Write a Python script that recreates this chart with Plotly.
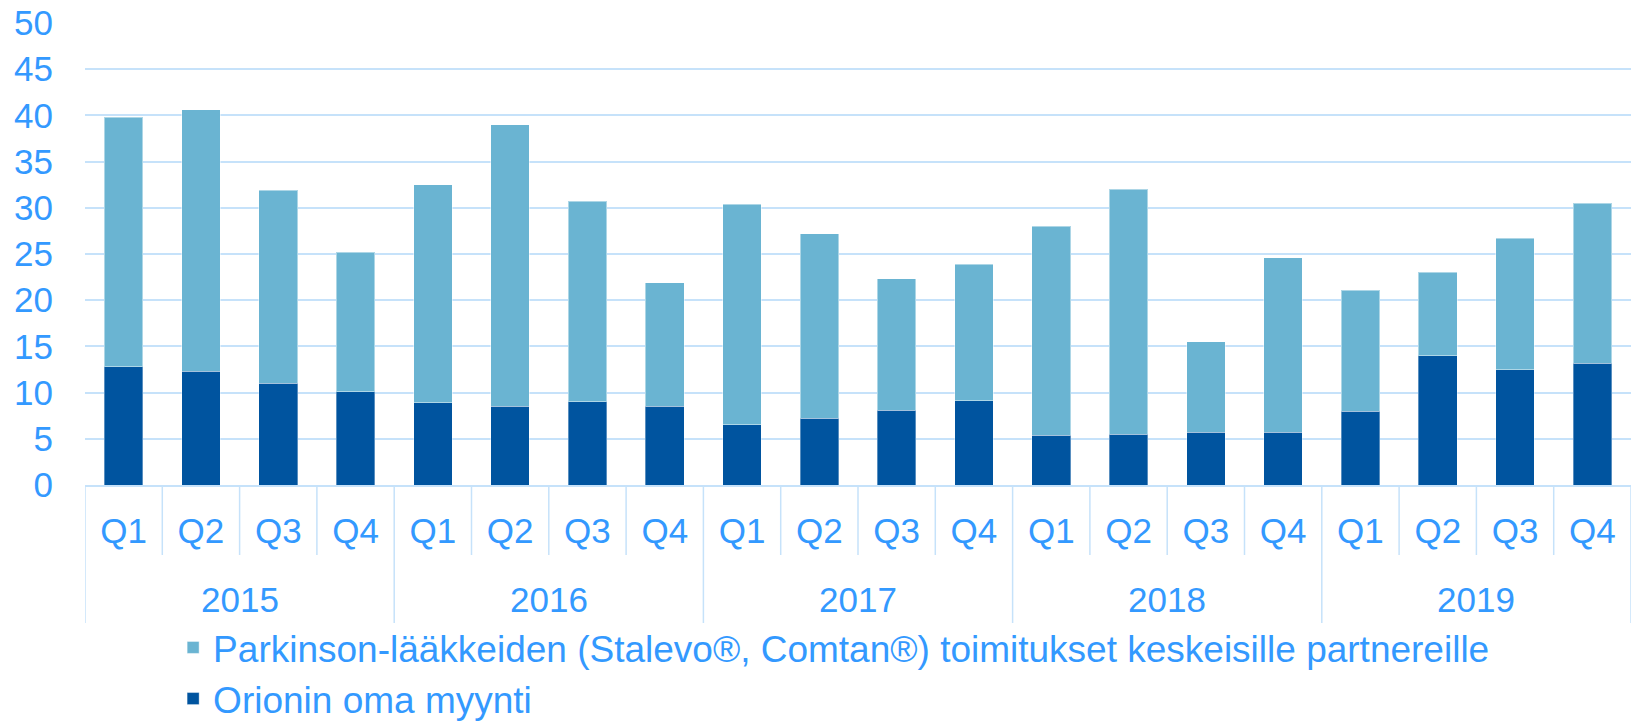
import plotly.graph_objects as go

years = ["2015", "2016", "2017", "2018", "2019"]
quarters = ["Q1", "Q2", "Q3", "Q4"]
# totals (top of stacked bar) and own-sales part
totals = [39.8, 40.6, 31.9, 25.2,
          32.5, 39.0, 30.7, 21.9,
          30.4, 27.2, 22.3, 23.9,
          28.0, 32.0, 15.5, 24.6,
          21.1, 23.0, 26.7, 30.5]
own_sales = [12.8, 12.3, 11.0, 10.1,
             8.9, 8.5, 9.0, 8.5,
             6.5, 7.2, 8.1, 9.1,
             5.4, 5.5, 5.7, 5.7,
             8.0, 14.0, 12.5, 13.2]
partner = [round(t - o, 2) for t, o in zip(totals, own_sales)]

name_partner = "Parkinson-lääkkeiden (Stalevo®, Comtan®) toimitukset keskeisille partnereille"
name_own = "Orionin oma myynti"

FONT = "Liberation Sans"
TXT = "#3399FF"
GRID = "#C6E2FA"
LIGHT = "#6AB4D2"
DARK = "#00549F"

labels = [q for y in years for q in quarters]
xs = list(range(len(labels)))

fig = go.Figure()
fig.add_bar(x=xs, y=own_sales, name=name_own,
            marker=dict(color=DARK, line=dict(width=1, color="rgba(255,255,255,0.35)")))
fig.add_bar(x=xs, y=partner, name=name_partner,
            marker=dict(color=LIGHT, line=dict(width=1, color="rgba(255,255,255,0.45)")))

shapes = []
n = len(labels)
nq = len(quarters)
for b in range(n + 1):
    is_year = (b % nq == 0)
    shapes.append(dict(type="line", xref="x", yref="paper", x0=b - 0.5, x1=b - 0.5,
                       y0=0, y1=-0.2987 if is_year else -0.1515,
                       line=dict(color=GRID, width=1.5), layer="below"))

annotations = []
for k, yr in enumerate(years):
    annotations.append(dict(x=k * nq + (nq - 1) / 2, y=-0.2475, xref="x", yref="paper",
                            text=yr, showarrow=False, yanchor="middle", xanchor="center",
                            font=dict(family=FONT, size=35, color=TXT)))

fig.update_layout(
    width=1633, height=721,
    margin=dict(l=85, r=2, t=23, b=236, autoexpand=False),
    plot_bgcolor="white", paper_bgcolor="white",
    barmode="stack", bargap=0.5,
    showlegend=True,
    legend=dict(orientation="v", x=0.057, xanchor="left", y=-0.2855, yanchor="top",
                traceorder="reversed", font=dict(family=FONT, size=37, color=TXT),
                bgcolor="rgba(0,0,0,0)"),
    shapes=shapes, annotations=annotations,
    font=dict(family=FONT, size=35, color=TXT),
)
fig.update_xaxes(range=[-0.5, n - 0.5], tickmode="array", tickvals=xs, ticktext=labels,
                 ticks="", showgrid=False, zeroline=False, showline=True, linecolor=GRID, linewidth=1.5,
                 tickfont=dict(family=FONT, size=35, color=TXT), ticklabelstandoff=14,
                 automargin=False)
fig.update_yaxes(range=[0, 50], dtick=5, showgrid=True, gridcolor=GRID, gridwidth=1.5,
                 zeroline=False, showline=False, ticks="",
                 tickfont=dict(family=FONT, size=35, color=TXT), ticklabelstandoff=31,
                 automargin=False)

fig.write_html("out.html", config={"displayModeBar": False},
               post_script="document.body.style.margin='0';")
